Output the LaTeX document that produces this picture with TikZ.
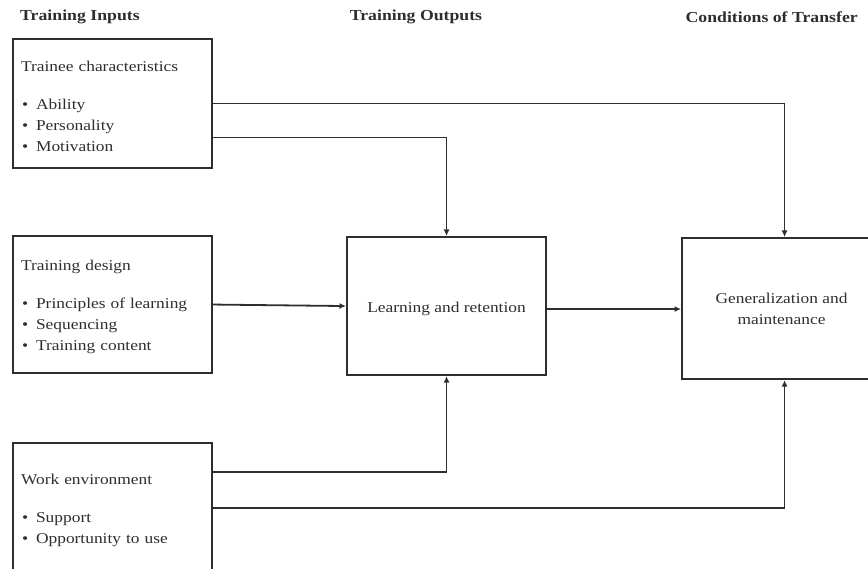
\documentclass[tikz,border=0pt]{standalone}
\usepackage{fontspec}
\setmainfont{Liberation Serif}[FakeStretch=1.16]
\usetikzlibrary{arrows.meta}
\definecolor{ink}{HTML}{2E2E2E}
\tikzset{
  box/.style={draw=ink, line width=2.1pt, minimum width=199pt, anchor=north west,
    inner xsep=8pt, text=ink, font=\fontsize{15}{21}\selectfont},
  listbox/.style={box, align=left, text width=183pt},
  centerbox/.style={box, align=center},
  head/.style={text=ink, font=\fontsize{15.3}{18}\selectfont\bfseries, inner sep=0pt},
  link/.style={draw=ink, line width=1.8pt, -{Latex[length=6.5pt,width=6pt]}},
}
\newcommand{\itm}[1]{\hspace{1pt}\makebox[14pt][l]{\textbullet}#1}
\newcommand{\topstrut}{\rule{0pt}{16pt}}
\begin{document}
\begin{tikzpicture}[x=1pt, y=-1pt]
\useasboundingbox (0,0) rectangle (868,569);
\clip (0,0) rectangle (868,569);

% column headings
\node[head, anchor=west] (hin) at (20,17) {Training Inputs};
\node[head] (hout) at (416,17) {Training Outputs};
\node[head, anchor=east] (htr) at (858,17) {Conditions of Transfer};

% input boxes
\node[listbox, minimum height=129pt] (b1) at (12,38)
  {\topstrut Trainee characteristics\\[17pt]\itm{Ability}\\\itm{Personality}\\\itm{Motivation}};
\node[listbox, minimum height=137pt] (b2) at (12,235)
  {\topstrut Training design\\[17pt]\itm{Principles of learning}\\\itm{Sequencing}\\\itm{Training content}};
\node[listbox, minimum height=130pt] (b3) at (12,442)
  {\topstrut Work environment\\[17pt]\itm{Support}\\\itm{Opportunity to use}};

% output and transfer boxes
\node[centerbox, minimum height=138pt] (learn) at (346,236) {\topstrut Learning and retention};
\node[centerbox, minimum height=141pt] (gen) at (681,237) {Generalization and\\maintenance};

% connectors
\draw[link] (b1.east) -| ([xshift=3pt]gen.north);
\draw[link] ([yshift=-34pt]b1.east) -| (learn.north);
\draw[link] (b2.east) -- (learn.west);
\draw[link] ([yshift=-3pt]learn.east) -- ([yshift=-3pt]learn.east -| gen.west);
\draw[link] ([yshift=36pt]b3.east) -| (learn.south);
\draw[link] (b3.east) -| ([xshift=3pt]gen.south);
\end{tikzpicture}
\end{document}
